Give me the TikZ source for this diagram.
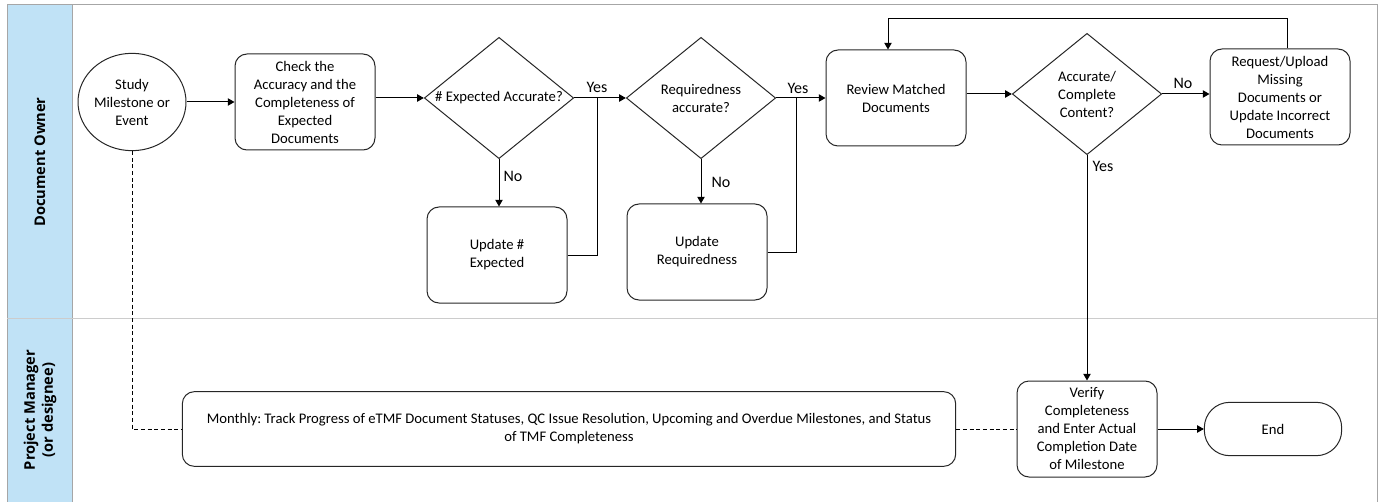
\documentclass[tikz,border=0pt]{standalone}
\usepackage{fontspec}
\setmainfont{Carlito}
\newfontfamily\lanefont{Open Sans}
\usetikzlibrary{arrows.meta,shapes.geometric}
\definecolor{lanebg}{HTML}{C0E2F6}
\definecolor{frame}{HTML}{A6A6A6}
\frenchspacing

\begin{document}
\begin{tikzpicture}[x=0.75pt,y=-0.75pt,font=\fontsize{11}{13.5}\selectfont,line width=0.75pt,
  box/.style={draw=black!85,rounded corners=9pt,align=center,minimum width=105pt,minimum height=72pt,inner sep=1pt},
  dia/.style={draw=black!85,diamond,minimum width=112pt,minimum height=91pt,inner sep=0pt},
  arr/.style={-{Triangle[length=5pt,width=5.5pt]}},
  lbl/.style={font=\fontsize{12}{14}\selectfont},
  lane/.style={rotate=90,align=center,font=\lanefont\bfseries\fontsize{11}{13.5}\selectfont}]
\useasboundingbox (0,0) rectangle (1383,502);
\fill[lanebg] (7,5) rectangle (72,503);
\draw[frame] (7,503) -- (7,5) -- (1377,5) -- (1377,503);
\draw[frame] (72,5) -- (72,503);
\draw[black!20] (7,318) -- (1377,318);
\node[lane] (own) at (40,162) {Document Owner};
\node[lane] (pm) at (40,410) {Project Manager\\(or designee)};

\node[draw=black!85,ellipse,minimum width=81pt,minimum height=73pt,inner sep=0pt,align=center] (study) at (132,102) {Study\\Milestone or\\Event};
\node[box] (check) at (305,102) {Check the\\Accuracy and the\\Completeness of\\Expected\\Documents};
\node[dia,label={center:\# Expected Accurate?}] (dexp) at (499,98) {};
\node[box] (upexp) at (497,255) {Update \#\\Expected};
\node[dia,label={[align=center]center:Requiredness\\accurate?}] (dreq) at (701,98) {};
\node[box] (upreq) at (697,252) {Update\\Requiredness};
\node[box] (review) at (896,98) {Review Matched\\Documents};
\node[dia,label={[align=center]center:Accurate/\\Complete\\Content?}] (dcon) at (1087,94) {};
\node[box] (request) at (1280,97) {Request/Upload\\Missing\\Documents or\\Update Incorrect\\Documents};
\node[box,minimum width=580pt,minimum height=56pt] (monthly) at (569,429) {Monthly: Track Progress of eTMF Document Statuses, QC Issue Resolution, Upcoming and Overdue Milestones, and Status\\of TMF Completeness};
\node[box] (verify) at (1087,429) {Verify\\Completeness\\and Enter Actual\\Completion Date\\of Milestone};
\node[box,minimum width=103pt,minimum height=40pt,rounded corners=19pt] (endn) at (1273,429) {End};

\coordinate (j1) at (597,98);
\coordinate (j2) at (796,98);
\coordinate (top) at (888,19);
\draw[arr] (study) -- (check);
\draw[arr] (check.east |- dexp.west) -- (dexp.west);
\draw[arr] (dexp.east) -- (dreq.west);
\draw[arr] (dexp.south) -- (dexp.south |- upexp.north);
\draw (upexp.east) -| (j1);
\draw[arr] (dreq.east) -- (review.west |- dreq.east);
\draw[arr] (dreq.south) -- (dreq.south |- upreq.north);
\draw (upreq.east) -| (j2);
\draw[arr] (review.east |- dcon.west) -- (dcon.west);
\draw[arr] (dcon.east) -- (dcon.east -| request.west);
\draw[arr] (request.north -| 1287,0) |- (top) -- (top |- review.north);
\draw[arr] (dcon.south) -- (verify.north);
\draw[arr] (verify.east) -- (endn.west);
\draw[dash pattern=on 3pt off 2pt] (study.south) |- (monthly.west);
\draw[dash pattern=on 3pt off 2pt] (monthly.east) -- (verify.west);

\node[lbl] (yes1) at (597,87) {Yes};
\node[lbl] (no1) at (513,176) {No};
\node[lbl] (yes2) at (798,88) {Yes};
\node[lbl] (no2) at (721,182) {No};
\node[lbl] (no3) at (1183,83) {No};
\node[lbl] (yes3) at (1103,166) {Yes};
\end{tikzpicture}
\end{document}
